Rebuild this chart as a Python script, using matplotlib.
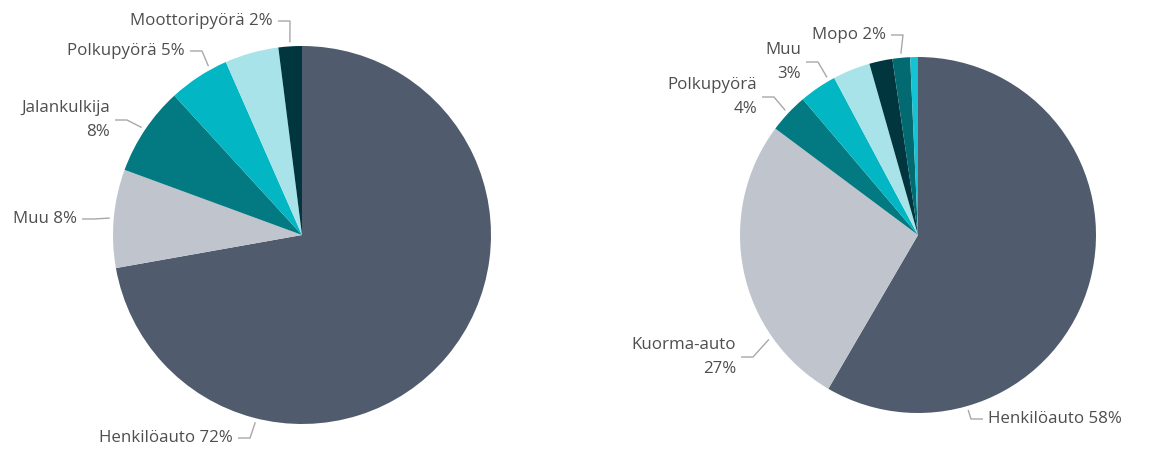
import numpy as np
import matplotlib
matplotlib.use("Agg")
import matplotlib.pyplot as plt

## DATA (shares in percent, clockwise from 12 o'clock)
left_names = ["Henkilöauto", "Muu", "Jalankulkija", "Polkupyörä", "", "Moottoripyörä"]
left_values = [72.2, 8.4, 7.6, 5.2, 4.6, 2.0]

right_names = ["Henkilöauto", "Kuorma-auto", "Polkupyörä", "Muu", "", "", "Mopo", ""]
right_values = [58.4, 26.8, 3.6, 3.4, 3.4, 2.1, 1.6, 0.7]

## STYLE
colors = ["#505C6D", "#C0C5CD", "#037A82", "#02B7C3", "#A8E3EA", "#02363E", "#036A71", "#15C3D3"]
text_color = "#4E4E4E"
line_color = "#A8A8A8"
W, H = 1157, 450

plt.rcParams['font.family'] = ['Open Sans', 'DejaVu Sans']

fig = plt.figure(figsize=(W / 100, H / 100), dpi=100)
ax = fig.add_axes([0, 0, 1, 1])


def draw_pie(values, names, center, radius, labels):
    # center given in pixels from top-left
    cx, cy = center[0], H - center[1]
    ax.pie(values, colors=colors[:len(values)], startangle=90, counterclock=False,
           center=(cx, cy), radius=radius, frame=True,
           wedgeprops=dict(linewidth=0, antialiased=True))
    cum = np.cumsum([0] + list(values)) / sum(values) * 360
    for i, name in enumerate(names):
        if not name or i not in labels:
            continue
        tx, ty, split, anchor = labels[i]
        ang = anchor if anchor is not None else (cum[i] + cum[i + 1]) / 2
        a = np.radians(ang)
        px = cx + (radius + 4) * np.sin(a)
        py = cy + (radius + 4) * np.cos(a)
        pct = f"{round(values[i])}%"
        txt = f"{name}\n{pct}" if split else f"{name} {pct}"
        on_right = tx > cx
        ty_d = H - ty
        ex = tx - 5 if on_right else tx + 5
        elbow = ex - 12 if on_right else ex + 12
        ax.plot([ex, elbow, px], [ty_d, ty_d, py], color=line_color, lw=1, solid_capstyle='butt')
        ax.text(tx, ty_d, txt, ha='left' if on_right else 'right', va='center',
                fontsize=12.2, color=text_color, linespacing=1.6, multialignment='right')


# label layout: index -> (text x px, text y px, two lines?, anchor angle override)
left_labels = {
    0: (233, 438, False, 194),
    1: (77, 219, False, None),
    2: (110, 120, True, None),
    3: (185, 51, False, 331),
    5: (273, 21, False, None),
}
right_labels = {
    0: (988, 419, False, 164),
    1: (736, 357, True, 235),
    2: (757, 97, True, None),
    3: (801, 62, True, 330),
    6: (886, 35, False, None),
}

draw_pie(left_values, left_names, (302, 235), 189, left_labels)
draw_pie(right_values, right_names, (918, 235), 178, right_labels)

ax.set_xlim(0, W)
ax.set_ylim(0, H)
ax.set_aspect('equal')
ax.axis('off')

fig.savefig("out.png", dpi=100, facecolor="white")
